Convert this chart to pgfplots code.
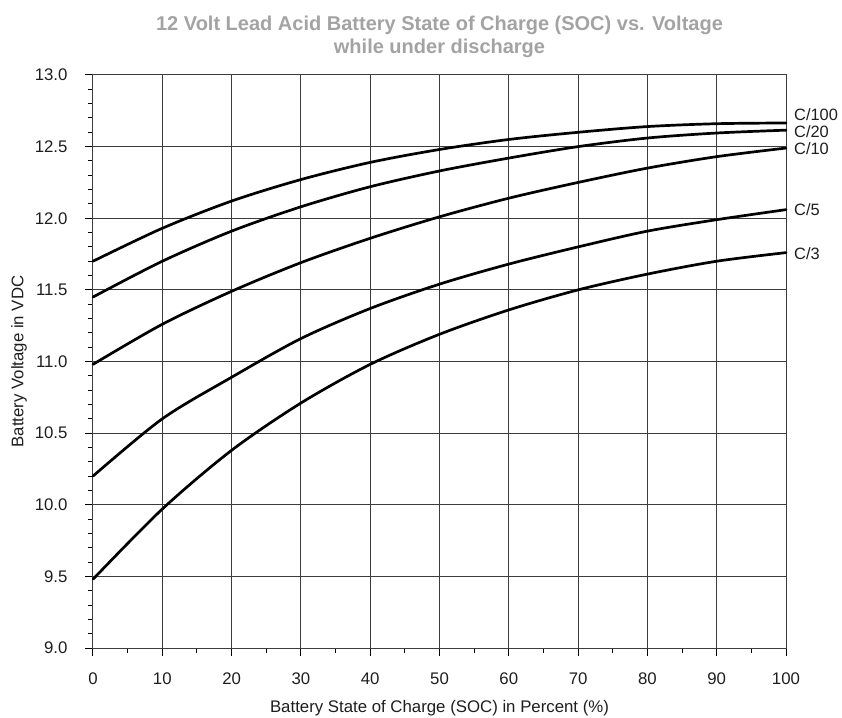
\documentclass[border=0pt]{standalone}
\usepackage{pgfplots}
\pgfplotsset{compat=1.18}
\usepackage{fontspec}
\setmainfont{Liberation Sans}
\definecolor{titlegray}{RGB}{163,163,163}
\definecolor{gridgray}{RGB}{60,60,60}
\definecolor{labeltext}{RGB}{30,30,30}

\begin{document}
\begin{tikzpicture}
% page frame around the plot area
\path[use as bounding box] (-93pt,-69pt) rectangle (749pt,648pt);
\begin{axis}[
  at={(0,0)}, anchor=south west,
  scale only axis, width=693pt, height=573pt,
  xmin=0, xmax=100, ymin=9, ymax=13,
  xtick={0,10,...,100}, ytick={9,9.5,...,13},
  minor x tick num=1, minor y tick num=4,
  grid=major,
  major grid style={gridgray, line width=1pt},
  axis line style={gridgray, line width=1pt},
  tick pos=left, tick align=outside,
  major tick length=8pt, minor tick length=5pt,
  every tick/.style={black, line width=1pt},
  /pgf/number format/assume math mode=true,
  yticklabel style={/pgf/number format/fixed, /pgf/number format/fixed zerofill,
    /pgf/number format/precision=1, anchor=east, xshift=-14pt},
  xticklabel style={anchor=north, yshift=-13pt},
  ticklabel style={font=\fontsize{16.8}{19}\selectfont, text=labeltext},
  xlabel={Battery State of Charge (SOC) in Percent (\%)},
  ylabel={Battery Voltage in VDC},
  label style={font=\fontsize{16.8}{19}\selectfont, text=labeltext},
  xlabel style={at={(axis description cs:0.5,0)}, anchor=center, yshift=-60pt},
  ylabel style={at={(axis description cs:0,0.5)}, anchor=center, yshift=74pt},
  title={12 Volt Lead Acid Battery State of Charge (SOC) vs. Voltage\\while under discharge},
  title style={align=center, font=\fontsize{20}{23}\selectfont\bfseries, text=titlegray,
    at={(axis description cs:0.5,1)}, anchor=center, yshift=32.5pt},
  curve/.style={black, line width=2.7pt, smooth, line cap=round, no markers},
  clip=false,
]
% C/100
\addplot[curve] coordinates {(0,11.70) (10,11.93) (20,12.12) (30,12.27) (40,12.39) (50,12.48)
  (60,12.55) (70,12.60) (80,12.64) (90,12.66) (100,12.665)};
% C/20
\addplot[curve] coordinates {(0,11.45) (10,11.70) (20,11.91) (30,12.08) (40,12.22) (50,12.33)
  (60,12.42) (70,12.50) (80,12.56) (90,12.595) (100,12.615)};
% C/10
\addplot[curve] coordinates {(0,10.98) (10,11.26) (20,11.49) (30,11.69) (40,11.86) (50,12.01)
  (60,12.14) (70,12.25) (80,12.35) (90,12.43) (100,12.49)};
% C/5
\addplot[curve] coordinates {(0,10.20) (10,10.60) (20,10.89) (30,11.16) (40,11.37) (50,11.54)
  (60,11.68) (70,11.80) (80,11.91) (90,11.99) (100,12.06)};
% C/3
\addplot[curve] coordinates {(0,9.48) (10,9.97) (20,10.38) (30,10.71) (40,10.98) (50,11.19)
  (60,11.36) (70,11.50) (80,11.61) (90,11.70) (100,11.76)};

% discharge-rate labels at the right end of each curve
\begin{scope}[every node/.style={anchor=west, inner sep=0pt, xshift=8pt,
    font=\fontsize{16.4}{19}\selectfont, text=labeltext}]
\node at (axis cs:100,12.722) {C/100};
\node at (axis cs:100,12.606) {C/20};
\node at (axis cs:100,12.488) {C/10};
\node at (axis cs:100,12.06) {C/5};
\node at (axis cs:100,11.75) {C/3};
\end{scope}
\end{axis}
\end{tikzpicture}
\end{document}
